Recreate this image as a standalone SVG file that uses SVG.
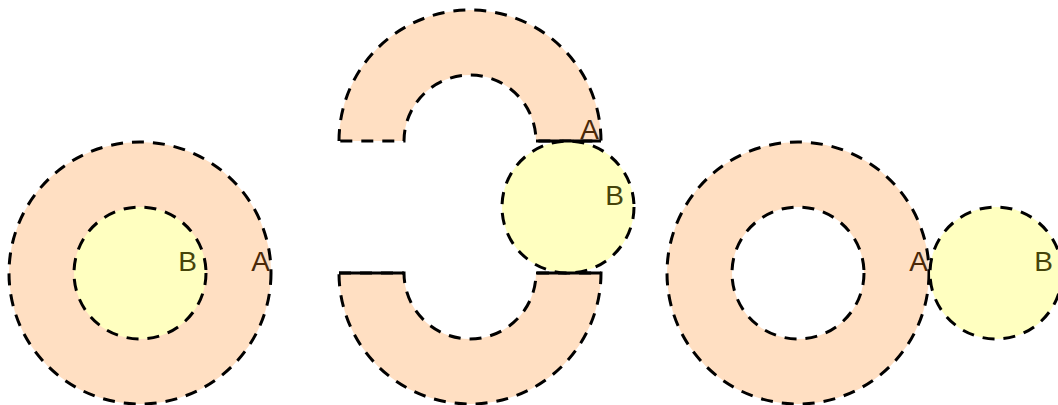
<svg xmlns="http://www.w3.org/2000/svg" width="1058" height="405" viewBox="0 0 1058 405">
<style>
.a{fill:#ffdfc2;stroke:#000;stroke-width:3;stroke-dasharray:12,9}
.b{fill:#ffffc0;stroke:#000;stroke-width:3;stroke-dasharray:12,9}
.h{fill:#fff;stroke:#000;stroke-width:3;stroke-dasharray:12,9}
.s{stroke:#000;stroke-width:3;fill:none}
.la{font-family:"Liberation Sans",Arial,sans-serif;font-size:28px;fill:#4a2808;text-anchor:end}
.lb{font-family:"Liberation Sans",Arial,sans-serif;font-size:28px;fill:#46440a;text-anchor:end}
</style>
<g id="config1">
<circle class="a" cx="140" cy="273" r="131"/>
<circle class="b" cx="140" cy="273" r="66"/>
<text class="lb" x="197" y="271">B</text>
<text class="la" x="270" y="271">A</text>
</g>
<g id="config2">
<path class="a" d="M339,141 A131,131 0 0 1 601,141 L536,141 A66,66 0 0 0 404,141 Z"/>
<path class="a" d="M339,273 L404,273 A66,66 0 0 0 536,273 L601,273 A131,131 0 0 1 339,273 Z"/>
<circle class="b" cx="568" cy="207" r="66"/>
<line class="s" x1="536" y1="141" x2="601" y2="141"/>
<line class="s" x1="339" y1="273" x2="404" y2="273"/>
<line class="s" x1="536" y1="273" x2="601" y2="273"/>
<text class="la" x="599" y="139">A</text>
<text class="lb" x="624" y="205">B</text>
</g>
<g id="config3">
<circle class="a" cx="798" cy="273" r="131"/>
<circle class="h" cx="798" cy="273" r="66"/>
<circle class="b" cx="996" cy="273" r="66"/>
<text class="la" x="928" y="271">A</text>
<text class="lb" x="1053" y="271">B</text>
</g>
</svg>
